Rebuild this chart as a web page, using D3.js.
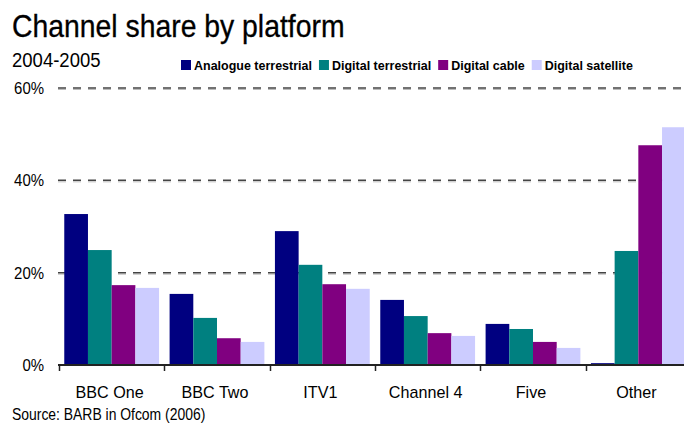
<!DOCTYPE html>
<meta content="text/html; charset=utf-8" http-equiv="Content-Type">
<html>
	<head>
	<title>Channel share by platform</title>
		<style type="text/css">
			body{
				margin: 0;
				background: white;
			}
			text{
				font-family: "Liberation Sans", Arial, sans-serif;
				fill: #000;
			}
		</style>
	</head>
	<body>
		<div id='chart'></div>
		<script src="https://d3js.org/d3.v7.min.js"></script>
		<script>
			var channels = ["BBC One", "BBC Two", "ITV1", "Channel 4", "Five", "Other"];
			var platforms = ["Analogue terrestrial", "Digital terrestrial", "Digital cable", "Digital satellite"];
			var colors = ["#000080", "#008080", "#800080", "#ccccff"];
			var analogue = [32.7, 15.4, 29.0, 14.1, 8.9, 0.4];
			var digitalTerrestrial = [24.9, 10.2, 21.7, 10.6, 7.8, 24.7];
			var digitalCable = [17.3, 5.8, 17.5, 6.9, 5.0, 47.6];
			var digitalSatellite = [16.7, 5.0, 16.5, 6.3, 3.7, 51.5];
			var yTicks = [0, 20, 40, 60];

			var series = [analogue, digitalTerrestrial, digitalCable, digitalSatellite];
			var W = 684, H = 423;
			var vis = d3.select('#chart').append('svg').attr('width', W).attr('height', H);

			//the original font is a narrow sans, so squeeze Liberation Sans sideways
			function txt(parent, x, y, str, size, sx, anchor, weight){
				return parent.append('text')
					.attr('transform', 'translate(' + x + ',' + y + ') scale(' + sx + ',1)')
					.attr('text-anchor', anchor || 'start')
					.style('font-size', size + 'px')
					.style('font-weight', weight || 'normal')
					.text(str);
			}

			var x0 = d3.scaleBand()
				.domain(channels)
				.range([59, 691])
				.paddingInner(0.1)
				.paddingOuter(0.05);
			var x1 = d3.scaleBand()
				.domain(d3.range(platforms.length))
				.range([0, x0.bandwidth()]);
			var y = d3.scaleLinear()
				.domain([0, 60])
				.range([365, 88]);

			//titles
			txt(vis, 12, 37, 'Channel share by platform', 30.5, 0.93)
				.style('stroke', '#000').style('stroke-width', 0.3);
			txt(vis, 12, 67, '2004-2005', 19.5, 0.95);
			txt(vis, 12, 420, 'Source: BARB in Ofcom (2006)', 16, 0.87);

			//dashed gridlines, under the bars
			var grid = vis.append('g');
			yTicks.filter(function(d){ return d > 0; }).forEach(function(t){
				grid.append('line')
					.attr('x1', 58).attr('x2', W).attr('y1', y(t) + 1.5).attr('y2', y(t) + 1.5)
					.attr('stroke', '#bbb').attr('stroke-width', 1).attr('stroke-dasharray', '8,7');
				grid.append('line')
					.attr('x1', 58).attr('x2', W).attr('y1', y(t)).attr('y2', y(t))
					.attr('stroke', '#444').attr('stroke-width', 1.5).attr('stroke-dasharray', '8,7');
			});

			//y labels
			var yl = vis.append('g');
			yTicks.forEach(function(t){
				txt(yl, 44, y(t) + 6, t + '%', 17, 0.88, 'end');
			});

			//bars
			var groups = vis.append('g').selectAll('g').data(series).enter().append('g')
				.attr('fill', function(d, i){ return colors[i]; });
			groups.each(function(vals, si){
				d3.select(this).selectAll('rect').data(vals).enter().append('rect')
					.attr('x', function(d, i){ return x0(channels[i]) + x1(si); })
					.attr('width', x1.bandwidth())
					.attr('y', function(d){ return y(d); })
					.attr('height', function(d){ return y(0) - y(d); });
			});

			//x axis line and ticks between categories
			var half = x0.step() * x0.paddingInner() / 2;
			vis.append('line')
				.attr('x1', 58).attr('x2', W).attr('y1', y(0)).attr('y2', y(0))
				.attr('stroke', '#222').attr('stroke-width', 2);
			vis.append('g').selectAll('line').data(channels).enter().append('line')
				.attr('x1', function(d){ return Math.round(x0(d) - half) + 0.5; })
				.attr('x2', function(d){ return Math.round(x0(d) - half) + 0.5; })
				.attr('y1', y(0)).attr('y2', y(0) + 6)
				.attr('stroke', '#222').attr('stroke-width', 1.5);
			var xl = vis.append('g');
			channels.forEach(function(c){
				txt(xl, x0(c) + x0.bandwidth() / 2 - 2, 398, c, 17, 0.95, 'middle');
			});

			//legend
			var lx = 181;
			platforms.forEach(function(p, i){
				vis.append('rect').attr('x', lx).attr('y', 60).attr('width', 10).attr('height', 10).attr('fill', colors[i]);
				var t = txt(vis, lx + 13, 70, p, 13.5, 0.925, 'start', 'bold');
				lx += 13 + t.node().getComputedTextLength() * 0.925 + 7;
			});
    </script>
	</body>
</html>
